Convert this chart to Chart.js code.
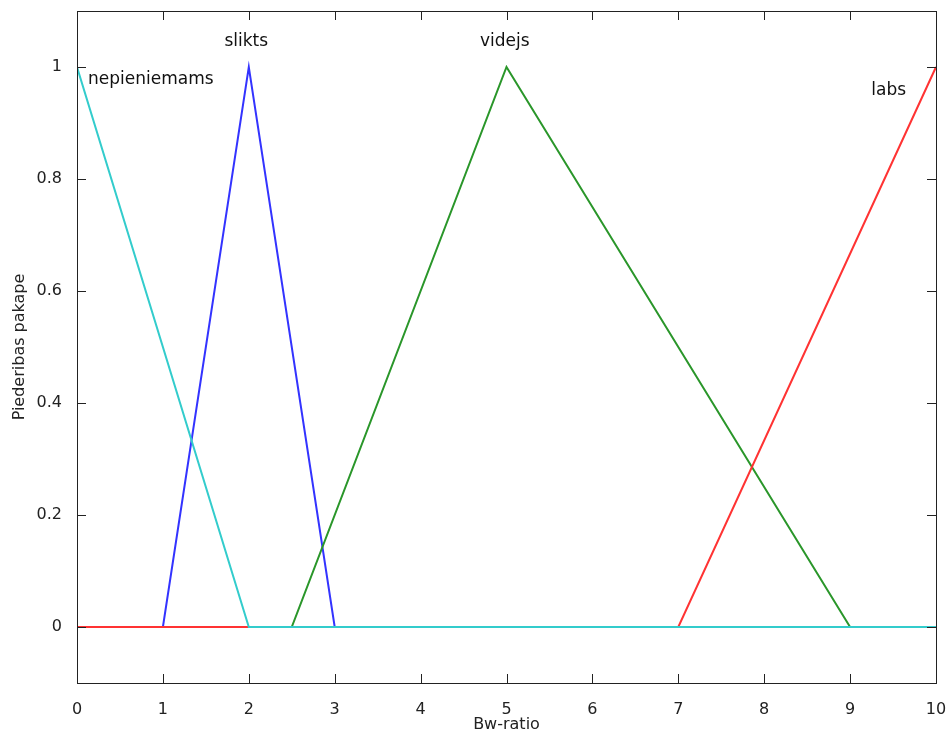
<!DOCTYPE html>
<html>
<head>
<meta charset="utf-8">
<script src="https://cdn.jsdelivr.net/npm/chart.js@4/dist/chart.umd.min.js"></script>
<style>
  html, body { margin: 0; padding: 0; background: #fff; }
  #wrap { width: 952px; height: 738px; }
</style>
</head>
<body>
<div id="wrap"><canvas id="mfChart"></canvas></div>
<script>
// membership functions, x / y break points
const nepX = [0, 2, 10];
const nepY = [1, 0, 0];
const sliktsX = [0, 1, 2, 3, 10];
const sliktsY = [0, 0, 1, 0, 0];
const videjsX = [0, 2.5, 5, 9, 10];
const videjsY = [0, 0, 1, 0, 0];
const labsX = [0, 7, 10];
const labsY = [0, 0, 1];

const xTicks = [0, 1, 2, 3, 4, 5, 6, 7, 8, 9, 10];
const yTicks = [0, 0.2, 0.4, 0.6, 0.8, 1];

// mf names and where they sit (data coords)
const mfNames = ['nepieniemams', 'slikts', 'videjs', 'labs'];
const nameX = [0.86, 1.97, 4.98, 9.45];
const nameY = [0.978, 1.045, 1.045, 0.958];

function pts(xs, ys) {
    return xs.map((x, i) => ({ x: x, y: ys[i] }));
}

const FONT = '"DejaVu Sans", Verdana, sans-serif';

// box round the axes + inward ticks on all four sides, MATLAB style
const boxTicks = {
    id: 'boxTicks',
    afterDatasetsDraw(chart) {
        const { ctx, chartArea: a, scales } = chart;
        const L = Math.round(a.left), R = Math.round(a.right);
        const T = Math.round(a.top), B = Math.round(a.bottom);
        const len = 9;
        ctx.save();
        ctx.fillStyle = '#222';
        // frame
        ctx.fillRect(L, T, R - L + 1, 1);
        ctx.fillRect(L, B, R - L + 1, 1);
        ctx.fillRect(L, T, 1, B - T + 1);
        ctx.fillRect(R, T, 1, B - T + 1);
        xTicks.forEach(v => {
            const px = Math.round(scales.x.getPixelForValue(v));
            ctx.fillRect(px, B - len, 1, len);
            ctx.fillRect(px, T, 1, len);
        });
        yTicks.forEach(v => {
            const py = Math.round(scales.y.getPixelForValue(v));
            ctx.fillRect(L, py, len, 1);
            ctx.fillRect(R - len, py, len, 1);
        });

        ctx.fillStyle = '#111';
        ctx.font = '17px ' + FONT;
        ctx.textAlign = 'center';
        ctx.textBaseline = 'middle';
        mfNames.forEach((n, i) => {
            ctx.fillText(n, scales.x.getPixelForValue(nameX[i]), scales.y.getPixelForValue(nameY[i]));
        });
        ctx.restore();
    }
};

document.addEventListener('DOMContentLoaded', function() {
    const lineStyle = { borderWidth: 2, pointRadius: 0, fill: false, tension: 0 };

    const chartData = {
        datasets: [
            { label: 'nepieniemams', data: pts(nepX, nepY), borderColor: '#33cccc', order: 0, ...lineStyle },
            { label: 'labs', data: pts(labsX, labsY), borderColor: '#ff3333', order: 1, ...lineStyle },
            { label: 'videjs', data: pts(videjsX, videjsY), borderColor: '#2a962a', order: 2, ...lineStyle },
            { label: 'slikts', data: pts(sliktsX, sliktsY), borderColor: '#3333ff', order: 3, ...lineStyle },
        ]
    };

    const options = {
        responsive: true,
        maintainAspectRatio: false,
        animation: false,
        layout: { padding: { top: 11, right: 16, left: 6, bottom: 0 } },
        plugins: { legend: false, tooltip: { enabled: false } },
        scales: {
            x: {
                type: 'linear',
                min: 0,
                max: 10,
                afterBuildTicks(s) { s.ticks = xTicks.map(v => ({ value: v })); },
                afterFit(s) { s.height = 55; s.paddingLeft = 0; s.paddingRight = 0; },
                grid: { display: false },
                border: { display: false },
                ticks: { color: '#222', padding: 9, font: { size: 16, family: FONT }, maxRotation: 0 },
                title: { display: true, text: 'Bw-ratio', color: '#222', padding: { top: 4 },
                         font: { size: 16, family: FONT } }
            },
            y: {
                type: 'linear',
                min: -0.1,
                max: 1.1,
                afterBuildTicks(s) { s.ticks = yTicks.map(v => ({ value: v })); },
                afterFit(s) { s.width = 71; s.paddingTop = 0; s.paddingBottom = 0; },
                grid: { display: false },
                border: { display: false },
                ticks: { color: '#222', padding: 7, font: { size: 16, family: FONT },
                         callback: v => String(Math.round(v * 10) / 10) },
                title: { display: true, text: 'Piederibas pakape', color: '#222', padding: { bottom: 2 },
                         font: { size: 16, family: FONT } }
            }
        }
    };

    new Chart(document.getElementById('mfChart').getContext('2d'), {
        type: 'line',
        data: chartData,
        options: options,
        plugins: [boxTicks]
    });
});
</script>
</body>
</html>
